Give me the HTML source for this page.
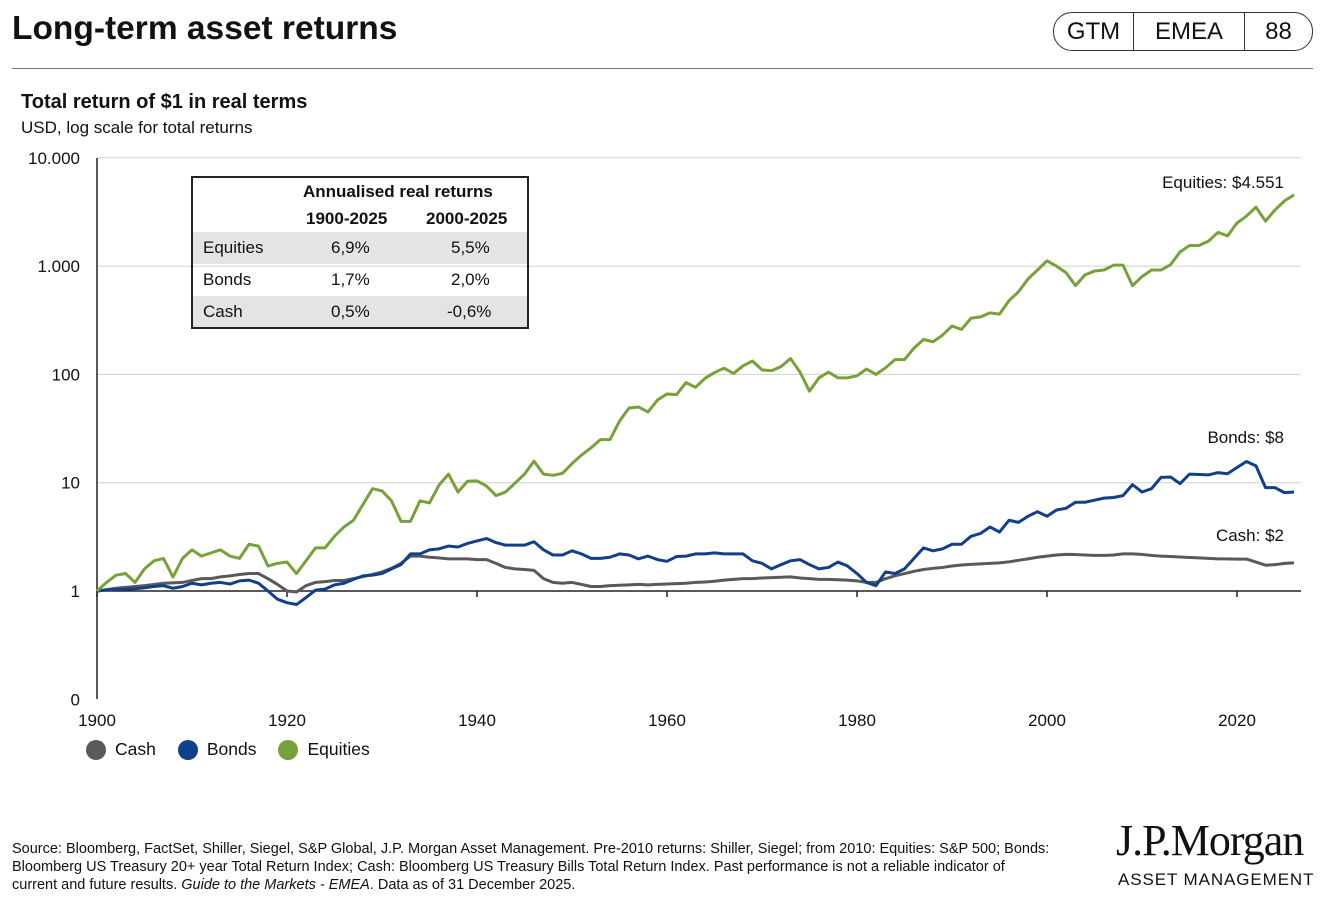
<!DOCTYPE html>
<html><head><meta charset="utf-8"><style>
body{margin:0;width:1333px;height:903px;background:#fff;font-family:"Liberation Sans",Arial,sans-serif;color:#111;position:relative;overflow:hidden}
.a{position:absolute;white-space:nowrap}
</style></head><body>
<div class="a" style="left:12px;top:10px;font-size:33.5px;font-weight:bold">Long-term asset returns</div>
<div class="a" style="left:1053px;top:12px;width:258px;height:37px;border:1px solid #333;border-radius:19px;display:flex;font-size:24px;align-items:center">
 <span style="width:79px;text-align:center;border-right:1px solid #333;line-height:37px">GTM</span>
 <span style="width:110px;text-align:center;border-right:1px solid #333;line-height:37px">EMEA</span>
 <span style="flex:1;text-align:center">88</span>
</div>
<div class="a" style="left:12px;top:68px;width:1301px;height:1px;background:#777"></div>
<div class="a" style="left:21px;top:91px;font-size:20px;font-weight:bold">Total return of $1 in real terms</div>
<div class="a" style="left:21px;top:118px;font-size:17px">USD, log scale for total returns</div>
<svg class="a" id="chart" style="left:0;top:0" width="1333" height="800" font-family="Liberation Sans, Arial, sans-serif"></svg>
<div class="a" style="left:191px;top:176px;width:334px;height:149px;border:2px solid #222;font-size:17px">
 <div style="position:absolute;left:110px;top:4px;font-weight:bold">Annualised real returns</div>
 <div style="position:absolute;left:113px;top:31px;font-weight:bold">1900-2025</div>
 <div style="position:absolute;left:233px;top:31px;font-weight:bold">2000-2025</div>
 <div style="position:absolute;left:0;top:54px;width:334px;height:32px;background:#e4e4e4"></div>
 <div style="position:absolute;left:0;top:118px;width:334px;height:31px;background:#e4e4e4"></div>
 <div style="position:absolute;left:10px;top:60px">Equities</div><div style="position:absolute;left:138px;top:60px">6,9%</div><div style="position:absolute;left:258px;top:60px">5,5%</div>
 <div style="position:absolute;left:10px;top:92px">Bonds</div><div style="position:absolute;left:138px;top:92px">1,7%</div><div style="position:absolute;left:258px;top:92px">2,0%</div>
 <div style="position:absolute;left:10px;top:124px">Cash</div><div style="position:absolute;left:138px;top:124px">0,5%</div><div style="position:absolute;left:254px;top:124px">-0,6%</div>
</div>
<div class="a" style="left:86px;top:739px;font-size:17.5px;display:flex;gap:0">
 <span style="display:flex;align-items:center;margin-right:22px"><i style="width:20px;height:20px;border-radius:50%;background:#58595b;margin-right:9px"></i>Cash</span>
 <span style="display:flex;align-items:center;margin-right:22px"><i style="width:20px;height:20px;border-radius:50%;background:#123f8a;margin-right:9px"></i>Bonds</span>
 <span style="display:flex;align-items:center"><i style="width:20px;height:20px;border-radius:50%;background:#77a23a;margin-right:9px"></i>Equities</span>
</div>
<div class="a" style="left:12px;top:840px;font-size:14.5px;line-height:18px">Source: Bloomberg, FactSet, Shiller, Siegel, S&amp;P Global, J.P. Morgan Asset Management. Pre-2010 returns: Shiller, Siegel; from 2010: Equities: S&amp;P 500; Bonds:<br>Bloomberg US Treasury 20+ year Total Return Index; Cash: Bloomberg US Treasury Bills Total Return Index. Past performance is not a reliable indicator of<br>current and future results. <i>Guide to the Markets - EMEA</i>. Data as of 31 December 2025.</div>
<div class="a" style="left:1116px;top:815px;font-family:'Liberation Serif',serif;font-size:44px;letter-spacing:-1px">J.P.Morgan</div>
<div class="a" style="left:1118px;top:870px;font-size:17px;letter-spacing:0.9px">ASSET MANAGEMENT</div>
<script>
const equities=[1,1.2,1.4,1.45,1.2,1.6,1.9,2.0,1.35,2.0,2.4,2.1,2.25,2.4,2.1,2.0,2.7,2.6,1.7,1.8,1.85,1.45,1.9,2.5,2.5,3.2,3.9,4.5,6.3,8.8,8.4,6.8,4.4,4.4,6.8,6.5,9.5,12,8.2,10.3,10.4,9.3,7.6,8.2,9.9,12,15.8,12,11.7,12.2,15,18,21,25,25,37,49,50,45,58,66,65,84,76,92,104,114,102,120,133,110,108,118,140,105,70,93,105,93,93,97,112,100,115,137,137,175,210,200,230,280,260,330,340,370,360,480,580,760,920,1120,1000,870,660,830,900,920,1020,1020,660,800,920,920,1030,1350,1550,1550,1700,2050,1900,2500,2900,3500,2600,3300,4000,4551];
const bonds=[1,1.02,1.03,1.04,1.05,1.07,1.1,1.12,1.06,1.1,1.18,1.14,1.18,1.2,1.16,1.24,1.26,1.18,1.0,0.84,0.78,0.75,0.87,1.02,1.04,1.14,1.18,1.28,1.38,1.4,1.45,1.6,1.75,2.2,2.2,2.4,2.45,2.6,2.55,2.75,2.9,3.05,2.8,2.65,2.65,2.65,2.85,2.4,2.15,2.15,2.35,2.2,2.0,2.0,2.05,2.2,2.15,1.98,2.1,1.95,1.88,2.08,2.1,2.2,2.2,2.25,2.2,2.2,2.2,1.9,1.8,1.6,1.75,1.9,1.95,1.75,1.6,1.65,1.85,1.7,1.45,1.2,1.12,1.5,1.45,1.6,2.0,2.5,2.35,2.45,2.7,2.7,3.2,3.4,3.9,3.5,4.5,4.3,4.9,5.4,4.9,5.6,5.8,6.6,6.6,6.9,7.2,7.3,7.6,9.6,8.2,8.8,11.2,11.3,9.8,12.0,11.9,11.8,12.4,12.1,13.8,15.7,14.3,9.0,9.0,8.1,8.2];
const cash=[1,1.03,1.06,1.08,1.1,1.12,1.15,1.18,1.19,1.2,1.25,1.3,1.3,1.35,1.38,1.42,1.45,1.45,1.3,1.15,1.0,0.98,1.12,1.2,1.22,1.25,1.25,1.3,1.36,1.42,1.5,1.62,1.8,2.1,2.1,2.05,2.02,1.98,1.98,1.98,1.95,1.95,1.8,1.65,1.6,1.58,1.55,1.3,1.2,1.18,1.2,1.15,1.1,1.1,1.12,1.13,1.14,1.15,1.14,1.15,1.16,1.17,1.18,1.2,1.21,1.23,1.26,1.28,1.3,1.3,1.32,1.33,1.34,1.35,1.32,1.3,1.28,1.28,1.27,1.26,1.24,1.2,1.2,1.3,1.38,1.45,1.52,1.58,1.62,1.65,1.7,1.74,1.76,1.78,1.8,1.82,1.86,1.92,1.98,2.05,2.1,2.15,2.18,2.17,2.15,2.13,2.13,2.15,2.2,2.2,2.18,2.13,2.1,2.08,2.06,2.04,2.02,2.0,1.98,1.98,1.97,1.97,1.85,1.73,1.75,1.8,1.82];
const yTicks=[0.1,1,10,100,1000,10000];
const yTickLabels=["0","1","10","100","1.000","10.000"];
const xTicks=[1900,1920,1940,1960,1980,2000,2020];
const startYear=1900;
const NS="http://www.w3.org/2000/svg";
const svg=document.getElementById('chart');
const X=y=>97+(y-1900)*9.5;
const Y=v=>591-Math.log10(v)*108.3;
function mk(t,a){const e=document.createElementNS(NS,t);for(const k in a)e.setAttribute(k,a[k]);svg.appendChild(e);return e;}
yTicks.forEach((v,i)=>{
 if(v>1){const g=mk('line',{x1:97,x2:1301,y1:Y(v),y2:Y(v),stroke:'#d0d0d0','stroke-width':1});
 
 }
 const t=mk('text',{x:80,y:Y(v)+6,'text-anchor':'end','font-size':17,fill:'#111'});t.textContent=yTickLabels[i];
 
 
});
xTicks.forEach(yr=>{
 const l=mk('line',{x1:X(yr),x2:X(yr),y1:591,y2:597,stroke:'#222','stroke-width':1.5});
 
 
 const t=mk('text',{x:X(yr),y:726,'text-anchor':'middle','font-size':17,fill:'#111'});t.textContent=yr;
 
 
});
const ax=mk('line',{x1:97,x2:97,y1:158,y2:699,stroke:'#222','stroke-width':1.5});


const bx=mk('line',{x1:97,x2:1301,y1:591,y2:591,stroke:'#222','stroke-width':1.5});


[[cash,'#58595b','cash-line'],[bonds,'#123f8a','bonds-line'],[equities,'#77a23a','equities-line']].forEach(([d,c,n])=>{
 const p=mk('polyline',{points:d.map((v,i)=>X(startYear+i)+','+Y(v)).join(' '),fill:'none',stroke:c,'stroke-width':3,'stroke-linejoin':'round'});
 
 
});
const last=a=>a[a.length-1];
[[equities,'Equities: $4.551','equities-end-label',-7],[bonds,'Bonds: $8','bonds-end-label',-49],[cash,'Cash: $2','cash-end-label',-22]].forEach(([d,s,n,dy])=>{
 const t=mk('text',{x:1284,y:Y(last(d))+dy,'text-anchor':'end','font-size':17,fill:'#111'});t.textContent=s;
 
 
});
</script>
</body></html>
